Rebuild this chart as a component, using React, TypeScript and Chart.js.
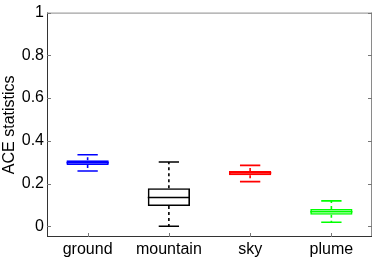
import { useEffect, useRef } from "react";
import { Chart, registerables } from "chart.js";

Chart.register(...registerables);

const categories = ["ground", "mountain", "sky", "plume"];
const whiskerLow = [0.259, 0.0, 0.209, 0.019];
const q1 = [0.287, 0.095, 0.239, 0.054];
const median = [0.298, 0.135, 0.25, 0.068];
const q3 = [0.309, 0.178, 0.259, 0.081];
const whiskerHigh = [0.335, 0.301, 0.285, 0.119];
const colors = ["#0000ff", "#000000", "#ff0000", "#00ff00"];
const yTicks = [0, 0.2, 0.4, 0.6, 0.8, 1];

const FONT = "'Liberation Sans', Arial, Helvetica, sans-serif";
const LW = 1.6;

const boxPlugin = {
  id: "boxplotExtras",
  afterDatasetsDraw(chart: any) {
    const { ctx, chartArea, scales } = chart;
    const x = scales.x;
    const y = scales.y;
    const meta = chart.getDatasetMeta(0);
    const unit = x.getPixelForValue(1) - x.getPixelForValue(0);
    const capHalf = unit * 0.125;
    ctx.save();
    ctx.lineWidth = LW;
    categories.forEach((_, i) => {
      const cx = x.getPixelForValue(i);
      const bar = meta.data[i];
      const half = bar.width / 2;
      ctx.strokeStyle = colors[i];
      // whiskers
      ctx.setLineDash([3, 3]);
      ctx.beginPath();
      ctx.moveTo(cx, y.getPixelForValue(q3[i]));
      ctx.lineTo(cx, y.getPixelForValue(whiskerHigh[i]));
      ctx.moveTo(cx, y.getPixelForValue(q1[i]));
      ctx.lineTo(cx, y.getPixelForValue(whiskerLow[i]));
      ctx.stroke();
      ctx.setLineDash([]);
      // caps
      ctx.beginPath();
      const yh = y.getPixelForValue(whiskerHigh[i]);
      const yl = y.getPixelForValue(whiskerLow[i]);
      ctx.moveTo(cx - capHalf, yh);
      ctx.lineTo(cx + capHalf, yh);
      ctx.moveTo(cx - capHalf, yl);
      ctx.lineTo(cx + capHalf, yl);
      // median
      const ym = y.getPixelForValue(median[i]);
      ctx.moveTo(cx - half, ym);
      ctx.lineTo(cx + half, ym);
      ctx.stroke();
    });
    // frame
    ctx.lineWidth = 1;
    ctx.strokeStyle = "#8a8a8a";
    ctx.beginPath();
    ctx.moveTo(chartArea.left, chartArea.top + 0.5);
    ctx.lineTo(chartArea.right, chartArea.top + 0.5);
    ctx.moveTo(chartArea.right - 0.5, chartArea.top);
    ctx.lineTo(chartArea.right - 0.5, chartArea.bottom);
    ctx.stroke();
    ctx.strokeStyle = "#333333";
    ctx.beginPath();
    ctx.moveTo(chartArea.left + 0.5, chartArea.top);
    ctx.lineTo(chartArea.left + 0.5, chartArea.bottom);
    ctx.moveTo(chartArea.left, chartArea.bottom - 0.5);
    ctx.lineTo(chartArea.right, chartArea.bottom - 0.5);
    ctx.stroke();
    // inward ticks
    ctx.strokeStyle = "#777777";
    ctx.beginPath();
    yTicks.forEach((v) => {
      const py = Math.round(y.getPixelForValue(v)) + 0.5;
      ctx.moveTo(chartArea.left, py);
      ctx.lineTo(chartArea.left + 4, py);
      ctx.moveTo(chartArea.right, py);
      ctx.lineTo(chartArea.right - 4, py);
    });
    categories.forEach((_, i) => {
      const px = Math.round(x.getPixelForValue(i)) + 0.5;
      ctx.moveTo(px, chartArea.bottom);
      ctx.lineTo(px, chartArea.bottom - 4);
    });
    ctx.stroke();
    ctx.restore();
  },
};

export default function App() {
  const ref = useRef<HTMLCanvasElement | null>(null);
  useEffect(() => {
    document.body.style.margin = "0";
    const canvas = ref.current;
    if (!canvas) return;
    const chart = new Chart(canvas, {
      type: "bar",
      data: {
        labels: categories,
        datasets: [
          {
            data: q1.map((v, i) => [v, q3[i]]) as any,
            backgroundColor: "rgba(0,0,0,0)",
            borderColor: colors,
            borderWidth: LW,
            borderSkipped: false,
            barPercentage: 0.52,
            categoryPercentage: 1,
          },
        ],
      },
      options: {
        animation: false,
        responsive: false,
        devicePixelRatio: 1,
        layout: { padding: { top: 11, right: 2, left: 0, bottom: 0 } },
        plugins: {
          legend: { display: false },
          tooltip: { enabled: false },
        },
        scales: {
          x: {
            type: "category",
            offset: true,
            grid: { display: false, drawTicks: false },
            border: { display: false },
            ticks: {
              color: "#000",
              font: { family: FONT, size: 16 },
              padding: 3,
              maxRotation: 0,
            },
            afterFit: (s: any) => {
              s.height = 21;
            },
          },
          y: {
            type: "linear",
            min: -0.05,
            max: 1,
            grid: { display: false, drawTicks: false },
            border: { display: false },
            afterBuildTicks: (s: any) => {
              s.ticks = yTicks.map((v) => ({ value: v }));
            },
            ticks: {
              color: "#000",
              font: { family: FONT, size: 16 },
              padding: 3,
              callback: (v: any) => String(Math.round(Number(v) * 10) / 10),
            },
            title: {
              display: true,
              text: "ACE statistics",
              color: "#000",
              font: { family: FONT, size: 16 },
              padding: { top: 0, bottom: 0 },
            },
            afterFit: (s: any) => {
              s.width = 47;
            },
          },
        },
      },
      plugins: [boxPlugin],
    });
    return () => chart.destroy();
  }, []);
  return (
    <div style={{ width: 374, height: 258 }}>
      <canvas ref={ref} width={374} height={258} style={{ display: "block" }} />
    </div>
  );
}
